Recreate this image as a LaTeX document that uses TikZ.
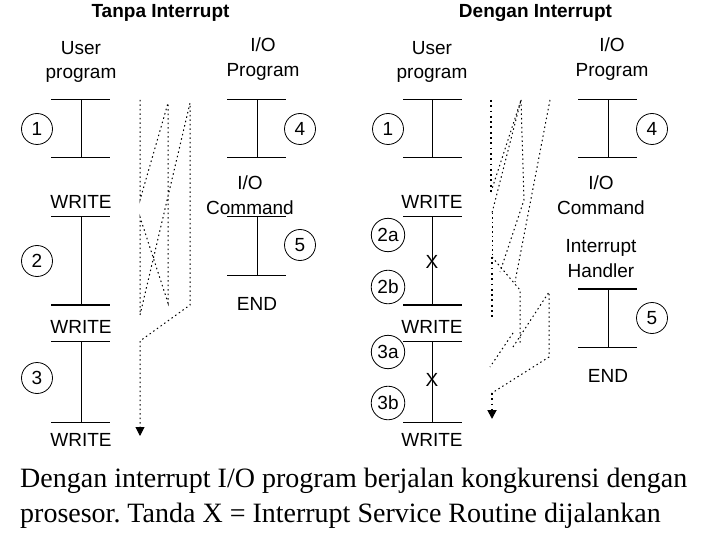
\documentclass[tikz,border=0pt]{standalone}
\usepackage{fontspec}
\setmainfont{Liberation Serif}
\newfontfamily\arialf{Liberation Sans}
\usetikzlibrary{arrows.meta}
\frenchspacing
\begin{document}
\begin{tikzpicture}[x=1pt,y=-1pt,
  lbl/.style={font=\arialf\fontsize{19}{24.5}\selectfont, align=center, inner sep=0pt},
  ttl/.style={font=\arialf\bfseries\fontsize{19}{22}\selectfont, inner sep=0pt},
  num/.style={circle, draw, line width=0.8pt, minimum size=31pt, inner sep=3pt, font=\arialf\fontsize{19}{20}\selectfont},
  bar/.style={line width=1pt},
  tbar/.style={line width=2.6pt},
  flow/.style={line width=1pt, dash pattern=on 1.5pt off 3pt},
  flowd/.style={line width=1.8pt, dash pattern=on 1.8pt off 3.5pt},
  tip/.style={-{Triangle[width=9pt,length=9pt]}},
  captxt/.style={font=\fontsize{28}{35}\selectfont, inner sep=0pt, anchor=base west}
]
\useasboundingbox[fill=white] (0,0) rectangle (720,540);

% ---------- titles ----------
\node[ttl] (t1) at (160.5,13) {Tanpa Interrupt};
\node[ttl] (t2) at (535.5,13) {Dengan Interrupt};

% ---------- LEFT: user program ----------
\node[lbl] (lup) at (81,62) {User\\program};
\draw[bar] (51,100) -- (110,100);
\draw[bar] (51,158) -- (110,158);
\draw[bar] (81,100) -- (81,158);
\node[num] (ln1) at (37,129) {1};
\node[lbl] (lw1) at (81,202) {WRITE};
\draw[bar] (51,217) -- (110,217);
\draw[bar] (81,217) -- (81,305);
\draw[tbar] (51,305) -- (110,305);
\node[num] (ln2) at (37,261) {2};
\node[lbl] (lw2) at (81,327) {WRITE};
\draw[bar] (51,341) -- (110,341);
\draw[bar] (81,341) -- (81,422);
\draw[bar] (51,422) -- (110,422);
\node[num] (ln3) at (37,378) {3};
\node[lbl] (lw3) at (81,440) {WRITE};

% ---------- LEFT: I/O program ----------
\node[lbl] (liop) at (263,59) {I/O\\Program};
\draw[bar] (227,100) -- (286,100);
\draw[bar] (227,158) -- (286,158);
\draw[bar] (257,100) -- (257,158);
\node[num] (ln4) at (300,129) {4};
\node[lbl] (lioc) at (250,195) {I/O\\Command};
\draw[bar] (227,217) -- (286,217);
\draw[bar] (257,217) -- (257,275);
\draw[bar] (227,275) -- (286,275);
\node[num] (ln5) at (300,245) {5};
\node[lbl] (lend) at (257,304) {END};

% ---------- LEFT: flow ----------
\coordinate (la1) at (140,100);
\coordinate (la2) at (140,200);
\coordinate (lb1) at (168,103);
\coordinate (lb2) at (168,303);
\coordinate (la3) at (140,217);
\coordinate (la4) at (140,315);
\coordinate (lc1) at (190,103);
\coordinate (lc2) at (190,305);
\coordinate (la5) at (140,341);
\coordinate (la6) at (140,436);
\draw[flow,tip] (la1) -- (la2) -- (lb1) -- (lb2) -- (la3) -- (la4) -- (lc1) -- (lc2) -- (la5) -- (la6);

% ---------- RIGHT: user program ----------
\node[lbl] (rup) at (432,62) {User\\program};
\draw[bar] (403,100) -- (462,100);
\draw[bar] (403,158) -- (462,158);
\draw[bar] (432,100) -- (432,158);
\node[num] (rn1) at (388,129) {1};
\node[lbl] (rw1) at (432,202) {WRITE};
\draw[bar] (403,217) -- (462,217);
\draw[bar] (432,217) -- (432,305);
\draw[tbar] (403,305) -- (462,305);
\node[num] (rn2a) at (388,235) {2a};
\node[num] (rn2b) at (388,287) {2b};
\node[lbl] (rx1) at (432,262) {X};
\node[lbl] (rw2) at (432,327) {WRITE};
\draw[bar] (403,341) -- (462,341);
\draw[bar] (432,341) -- (432,422);
\draw[bar] (403,422) -- (462,422);
\node[num] (rn3a) at (388,352) {3a};
\node[num] (rn3b) at (388,403) {3b};
\node[lbl] (rx2) at (432,380) {X};
\node[lbl] (rw3) at (432,440) {WRITE};

% ---------- RIGHT: I/O program ----------
\node[lbl] (riop) at (612,59) {I/O\\Program};
\draw[bar] (578,100) -- (637,100);
\draw[bar] (578,158) -- (637,158);
\draw[bar] (608,100) -- (608,158);
\node[num] (rn4) at (652,129) {4};
\node[lbl] (rioc) at (601,195) {I/O\\Command};
\node[lbl] (rih) at (601,258.5) {Interrupt\\Handler};
\draw[tbar] (578,289) -- (637,289);
\draw[bar] (608,289) -- (608,347);
\draw[bar] (578,347) -- (637,347);
\node[num] (rn5) at (652,318) {5};
\node[lbl] (rend) at (608,376) {END};

% ---------- RIGHT: flow ----------
\coordinate (ra1) at (491,100);
\coordinate (ra2) at (491,192);
\coordinate (rb1) at (521,100);
\coordinate (ra3) at (492,213);
\coordinate (ra4) at (492,257);
\coordinate (ra5) at (492,317);
\coordinate (rb2) at (524,200);
\coordinate (rb3) at (500,272);
\coordinate (rc1) at (550,100);
\coordinate (rc2) at (515,282);
\coordinate (rh1) at (520,290);
\coordinate (rh2) at (520,343);
\coordinate (rd1) at (549,292);
\coordinate (rd2) at (549,357);
\coordinate (rd3) at (513,347);
\coordinate (re1) at (513,333);
\coordinate (re2) at (490,367);
\coordinate (ra6) at (492,393);
\coordinate (ra7) at (492,419);
\draw[flowd] (ra1) -- (ra2);
\draw[flow] (ra2) -- (rb1) -- (ra3);
\draw[flow] (rb1) -- (rb2) -- (rb3);
\draw[flow] (rc1) -- (rc2);
\draw[flow] (ra3) -- (ra4);
\draw[flowd] (ra4) -- (ra5);
\draw[flow] (ra4) -- (rh1) -- (rh2);
\draw[flow] (rd3) -- (rd1) -- (rd2) -- (ra6);
\draw[flow] (re1) -- (re2);
\draw[flowd,tip] (ra6) -- (ra7);

% ---------- caption ----------
\node[captxt] (c1) at (20,487) {Dengan interrupt I/O program berjalan kongkurensi dengan};
\node[captxt] (c2) at (20,522) {prosesor. Tanda X = Interrupt Service Routine dijalankan};
\end{tikzpicture}
\end{document}
